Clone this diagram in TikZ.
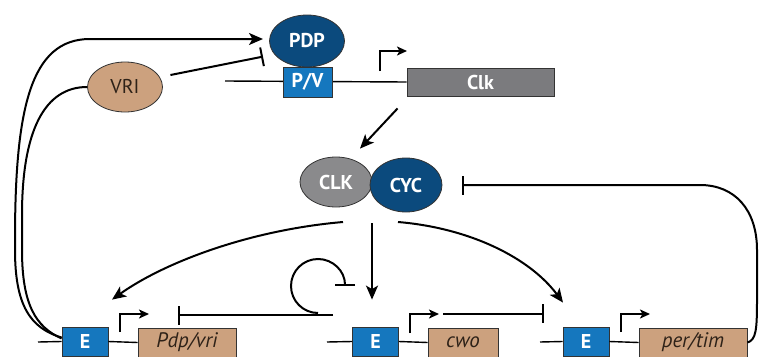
\documentclass[tikz,border=0pt]{standalone}
\usepackage{fontspec}
\setmainfont{PT Sans}
\usetikzlibrary{arrows.meta,shapes.geometric}
\definecolor{pdpblue}{HTML}{0B4A7D}
\definecolor{eblue}{HTML}{1577BE}
\definecolor{clkbox}{HTML}{7B7B7E}
\definecolor{clkell}{HTML}{8A8A8C}
\definecolor{tan}{HTML}{CCA17E}
\definecolor{edge}{HTML}{333333}
\definecolor{tantext}{HTML}{2E2218}
\begin{document}
\begin{tikzpicture}[x=1pt,y=-1pt,
  boldtxt/.style={font=\fontsize{20}{20}\selectfont\bfseries, text=white},
  ebox/.style={rectangle, fill=eblue, draw=edge, line width=0.8pt, minimum width=46pt, minimum height=29pt, inner sep=0pt, boldtxt},
  genebox/.style={rectangle, fill=tan, draw=edge, line width=0.8pt, minimum height=29pt, inner sep=0pt, font=\fontsize{21}{21}\selectfont\itshape, text=tantext},
  prot/.style={ellipse, draw=edge, line width=0.8pt, inner sep=0pt},
  act/.style={line width=2pt, -{Stealth[length=14pt,width=12pt,inset=3.5pt]}},
  inh/.style={line width=2pt, -{Bar[width=19pt,line width=2pt]}},
  dna/.style={line width=1.4pt},
  prom/.style={line width=1.9pt, -{Stealth[length=10pt,width=9pt,inset=2.5pt]}}]
\useasboundingbox (0,0) rectangle (760,356);

% top DNA
\coordinate (topL) at (225,81);
\node[rectangle, fill=clkbox, draw=edge, line width=0.8pt, minimum width=147pt, minimum height=28pt, inner sep=0pt, boldtxt] (Clk) at (480.5,82) {Clk};
\draw[dna] (topL) -- (Clk.west);
\node[prot, fill=pdpblue, minimum width=75pt, minimum height=52pt, boldtxt] (PDP) at (307,41) {PDP};
\node[ebox, minimum width=49pt, minimum height=30pt] (PV) at (307.5,82) {P/V};
\coordinate (pr0) at (380,71);
\draw[prom] (pr0) -- (380,51) -- (407,51);

% VRI
\node[prot, fill=tan, minimum width=75pt, minimum height=50pt, font=\fontsize{20}{20}\selectfont, text=tantext] (VRI) at (125,87) {VRI};
\draw[inh] ([shift={(7.5pt,12pt)}]VRI.east) -- ([shift={(-44.5pt,10pt)}]PV.north);

% CLK/CYC
\node[prot, fill=clkell, minimum width=72pt, minimum height=50pt, boldtxt] (CLK) at (336,182) {CLK};
\node[prot, fill=pdpblue, minimum width=72pt, minimum height=54pt, boldtxt] (CYC) at (406,185) {CYC};
\draw[act] ([shift={(-9pt,-12pt)}]Clk.south west) -- ([shift={(24pt,8pt)}]CLK.north);

% bottom genes
\node[ebox] (E1) at (85,341.5) {E};
\node[genebox, minimum width=98pt] (G1) at (187,342.5) {Pdp/vri};
\node[ebox] (E2) at (375.5,341.5) {E};
\node[genebox, minimum width=70pt] (G2) at (463,342.5) {cwo};
\node[ebox] (E3) at (586,341.5) {E};
\node[genebox, minimum width=108pt] (G3) at (693,342.5) {per/tim};
\coordinate (l1) at (38,342);
\coordinate (l2) at (327,342);
\coordinate (l3) at (540,342);
\draw[dna] (l1) -- (E1.west) (E1.east) -- (G1.west);
\draw[dna] (l2) -- (E2.west) (E2.east) -- (G2.west);
\draw[dna] (l3) -- (E3.west) (E3.east) -- (G3.west);

% promoters
\draw[prom] (120,332) -- (120,314) -- (149,314);
\draw[prom] (410,333) -- (410,314) -- (439,314);
\draw[prom] (621,332) -- (621,314) -- (650,314);

% left feedback curves
\draw[act] ([yshift=4pt]E1.west) .. controls (30,328) and (15,305) .. (15,250)
  -- (15,240) .. controls (15,110) and (30,39) .. (90,39) -- ([shift={(-44pt,2pt)}]PDP.center);
\draw[line width=2pt] ([yshift=3pt]E1.west) .. controls (36,327) and (22,305) .. (22,250)
  -- (22,215) .. controls (22,130) and (45,87) .. (VRI.west);

% CLK/CYC activations
\coordinate (cc) at (372,223);
\draw[act] (cc) -- ([shift={(-3.5pt,27pt)}]E2.north);
\draw[act] ([shift={(7pt,-40pt)}]CLK.center) .. controls (250,230) and (165,262) .. ([shift={(27pt,27pt)}]E1.north);
\draw[act] ([shift={(-8pt,-37pt)}]CYC.center) .. controls (470,228) and (530,258) .. ([shift={(-23pt,24pt)}]E3.north);

% cwo inhibitions
\coordinate (ib) at (333,315);
\draw[inh] (ib) -- (178,315);
\draw[line width=2pt, -{Bar[width=20pt,line width=2pt]}] (318,313) arc[start angle=90, end angle=360, radius=27];
\draw[inh] ([shift={(-20pt,14pt)}]G2.north) -- ([shift={(81pt,14pt)}]G2.north);

% per/tim feedback
\draw[inh] (G3.east) .. controls (756,340) and (757,330) .. (757,300) -- (757,250)
  .. controls (757,210) and (735,185) .. (700,185) -- ([xshift=20pt]CYC.east);
\end{tikzpicture}
\end{document}
